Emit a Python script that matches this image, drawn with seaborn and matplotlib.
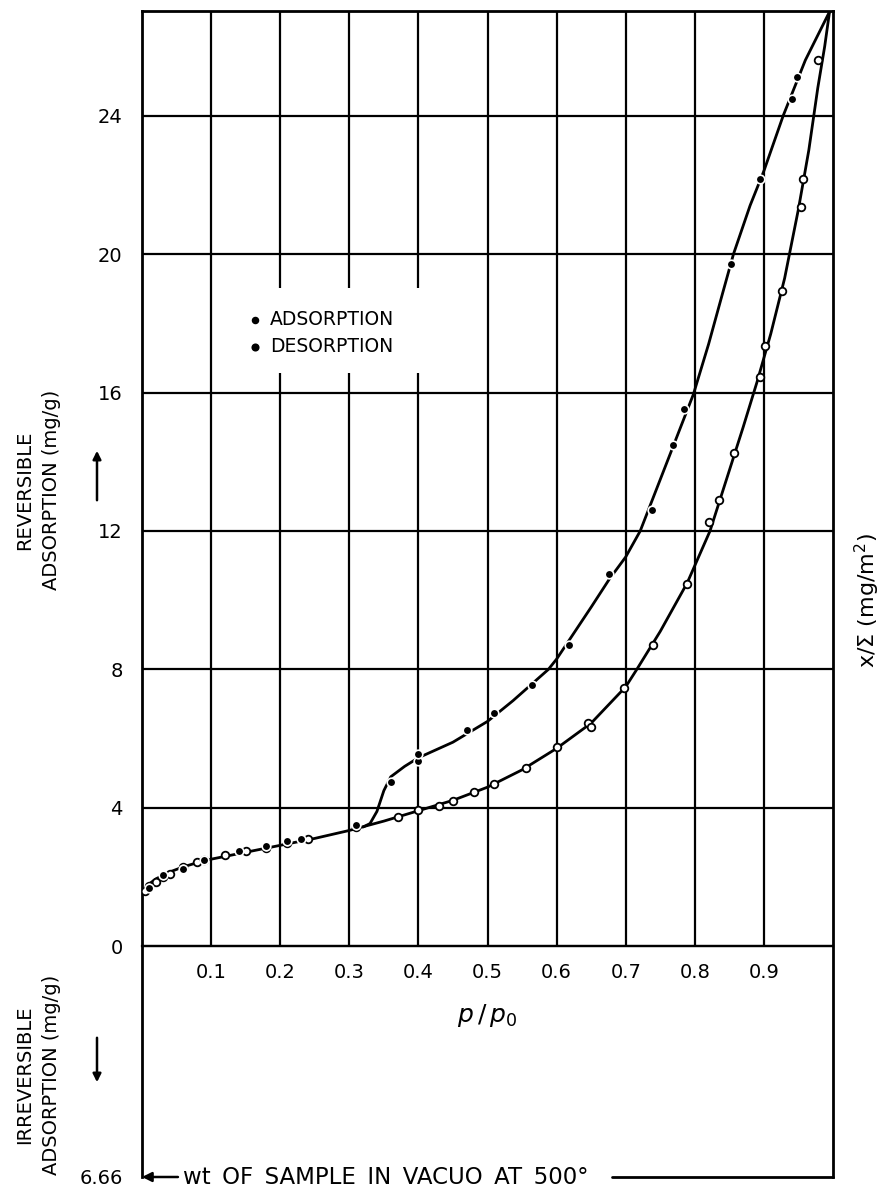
import numpy as np
import pandas as pd
import matplotlib
matplotlib.use("Agg")
import matplotlib.pyplot as plt
import seaborn as sns

# ---------------- data ----------------
ads_p = [0.005, 0.01, 0.02, 0.03, 0.04, 0.06, 0.08, 0.09, 0.12, 0.15, 0.18, 0.21,
         0.24, 0.31, 0.37, 0.40, 0.43, 0.45, 0.48, 0.51, 0.555, 0.60, 0.645, 0.65,
         0.697, 0.739, 0.789, 0.821, 0.835, 0.857, 0.894, 0.902, 0.926, 0.953, 0.957, 0.979]
ads_v = [1.6, 1.75, 1.85, 2.0, 2.1, 2.3, 2.45, 2.5, 2.65, 2.75, 2.85, 3.0,
         3.1, 3.45, 3.75, 3.95, 4.05, 4.2, 4.45, 4.7, 5.15, 5.75, 6.45, 6.35,
         7.46, 8.71, 10.47, 12.27, 12.9, 14.25, 16.46, 17.33, 18.94, 21.37, 22.17, 25.6]

des_p = [0.01, 0.03, 0.06, 0.09, 0.14, 0.18, 0.21, 0.23, 0.31, 0.36, 0.40, 0.40,
         0.47, 0.51, 0.565, 0.618, 0.676, 0.738, 0.769, 0.785, 0.852, 0.894, 0.941, 0.948]
des_v = [1.7, 2.05, 2.25, 2.5, 2.75, 2.9, 3.05, 3.1, 3.5, 4.75, 5.35, 5.55,
         6.25, 6.75, 7.54, 8.71, 10.75, 12.61, 14.47, 15.53, 19.71, 22.17, 24.47, 25.1]

# hand-drawn curves
ads_curve_p = [0.0, 0.01, 0.02, 0.04, 0.06, 0.08, 0.10, 0.15, 0.20, 0.25, 0.30, 0.35,
               0.40, 0.45, 0.50, 0.55, 0.60, 0.65, 0.70, 0.716, 0.75, 0.789, 0.822,
               0.85, 0.87, 0.89, 0.91, 0.93, 0.95, 0.965, 0.978, 0.988, 0.995]
ads_curve_v = [1.55, 1.8, 1.95, 2.15, 2.3, 2.42, 2.52, 2.72, 2.92, 3.12, 3.35, 3.62,
               3.92, 4.22, 4.6, 5.1, 5.72, 6.45, 7.5, 8.0, 9.1, 10.5, 12.0,
               13.75, 15.0, 16.3, 17.7, 19.3, 21.3, 23.0, 24.8, 26.0, 27.0]

des_curve_p = [0.32, 0.33, 0.34, 0.35, 0.36, 0.38, 0.40, 0.45, 0.50, 0.537, 0.588,
               0.60, 0.65, 0.676, 0.70, 0.721, 0.76, 0.798, 0.82, 0.84, 0.856,
               0.88, 0.90, 0.928, 0.96, 0.995]
des_curve_v = [3.45, 3.55, 3.9, 4.5, 4.9, 5.2, 5.45, 5.9, 6.5, 7.1, 8.0,
               8.3, 9.8, 10.6, 11.25, 12.0, 14.0, 15.95, 17.4, 18.85, 20.0,
               21.4, 22.4, 24.0, 25.6, 27.0]

x_ticks = [0.1, 0.2, 0.3, 0.4, 0.5, 0.6, 0.7, 0.8, 0.9]
x_tick_labels = ["0.1", "0.2", "0.3", "0.4", "0.5", "0.6", "0.7", "0.8", "0.9"]
y_ticks = [-6.66, 0, 4, 8, 12, 16, 20, 24]
y_tick_labels = ["6.66", "0", "4", "8", "12", "16", "20", "24"]
grid_y = [0, 4, 8, 12, 16, 20, 24]
legend_gap_x = [0.2, 0.3, 0.4]
legend_gap_v = (16.57, 19.02)

Y_MIN, Y_MAX = -6.66, 27.02

# ---------------- style ----------------
sns.set_theme(style="white")
plt.rcParams["font.family"] = ["DejaVu Sans"]
plt.rcParams["mathtext.fontset"] = "dejavusans"
plt.rcParams["text.color"] = "black"

fig = plt.figure(figsize=(8.81, 11.88), dpi=100)
ax = fig.add_axes([142 / 881, 1 - 1177 / 1188, (833 - 142) / 881, (1177 - 11) / 1188])

ax.set_xlim(0, 1.0)
ax.set_ylim(Y_MIN, Y_MAX)

# grid: horizontal lines across, vertical lines only above zero (with legend gap)
ax.hlines(grid_y, 0, 1, color="black", lw=1.6, zorder=1)
for gx in x_ticks:
    if gx in legend_gap_x:
        ax.vlines(gx, 0, legend_gap_v[0], color="black", lw=1.6, zorder=1)
        ax.vlines(gx, legend_gap_v[1], Y_MAX, color="black", lw=1.6, zorder=1)
    else:
        ax.vlines(gx, 0, Y_MAX, color="black", lw=1.6, zorder=1)

# curves
ads_curve = pd.DataFrame({"p": ads_curve_p, "v": ads_curve_v})
des_curve = pd.DataFrame({"p": des_curve_p, "v": des_curve_v})
sns.lineplot(data=ads_curve, x="p", y="v", sort=False, estimator=None,
             color="black", lw=2.0, ax=ax, zorder=3)
sns.lineplot(data=des_curve, x="p", y="v", sort=False, estimator=None,
             color="black", lw=2.0, ax=ax, zorder=3)

# points
ads = pd.DataFrame({"p": ads_p, "v": ads_v})
des = pd.DataFrame({"p": des_p, "v": des_v})
sns.scatterplot(data=ads, x="p", y="v", marker="o", s=30, facecolor="white",
                edgecolor="black", linewidth=1.3, ax=ax, zorder=4, label="ADSORPTION")
sns.scatterplot(data=des, x="p", y="v", marker="o", s=38, color="black",
                edgecolor="white", linewidth=1.2, ax=ax, zorder=5, label="DESORPTION")

leg = ax.legend(loc="upper left", bbox_to_anchor=(0.139, 0.752), frameon=False,
                fontsize=13.5, handletextpad=0.4, handlelength=0.8,
                labelspacing=0.45, borderpad=0, markerscale=0.75, labelcolor="black")
for h in leg.legend_handles:
    h.set_facecolor("black")
    h.set_edgecolor("black")

# spines
for s in ["left", "right", "top"]:
    ax.spines[s].set_color("black")
    ax.spines[s].set_linewidth(2.0)
ax.spines["bottom"].set_position(("data", 0))
ax.spines["bottom"].set_linewidth(1.6)
ax.spines["bottom"].set_color("black")

ax.set_xticks(x_ticks)
ax.set_xticklabels(x_tick_labels)
ax.set_yticks(y_ticks)
ax.set_yticklabels(y_tick_labels)
ax.tick_params(axis="x", length=0, pad=12, labelsize=14, colors="black")
ax.tick_params(axis="y", length=0, pad=14, labelsize=14, colors="black")

ax.set_xlabel(r"$p\,/\,p_0$", fontsize=18, labelpad=14, color="black")
ax.set_ylabel("")

# bottom border: arrow + text + line at y = 6.66
ax.annotate("", xy=(0.0, Y_MIN), xytext=(0.052, Y_MIN),
            arrowprops=dict(arrowstyle="-|>", color="black", lw=1.8,
                            mutation_scale=14, shrinkA=0, shrinkB=0),
            annotation_clip=False)
ax.text(0.059, Y_MIN, "wt\u2002OF\u2002SAMPLE\u2002IN\u2002VACUO\u2002AT\u2002500°",
        ha="left", va="center", fontsize=16.5, color="black", clip_on=False)
ax.plot([0.68, 1.0], [Y_MIN, Y_MIN], color="black", lw=2.0, clip_on=False)

# side labels
fig.text(38 / 881, 1 - 490 / 1188, "REVERSIBLE\nADSORPTION (mg/g)", rotation=90,
         ha="center", va="center", multialignment="center", fontsize=14,
         linespacing=1.5, color="black")
fig.text(38 / 881, 1 - 1075 / 1188, "IRREVERSIBLE\nADSORPTION (mg/g)", rotation=90,
         ha="center", va="center", multialignment="center", fontsize=14,
         linespacing=1.5, color="black")
fig.text(867 / 881, 1 - 601 / 1188, r"x/$\Sigma$ (mg/m$^2$)", rotation=90,
         ha="center", va="center", fontsize=16, color="black")

# direction arrows
ax.annotate("", xy=(97, 1188 - 448), xytext=(97, 1188 - 503), xycoords="figure pixels",
            textcoords="figure pixels",
            arrowprops=dict(arrowstyle="-|>", color="black", lw=1.8, mutation_scale=12))
ax.annotate("", xy=(97, 1188 - 1085), xytext=(97, 1188 - 1035), xycoords="figure pixels",
            textcoords="figure pixels",
            arrowprops=dict(arrowstyle="-|>", color="black", lw=1.8, mutation_scale=12))

fig.savefig("out.png", dpi=100, facecolor="white")
